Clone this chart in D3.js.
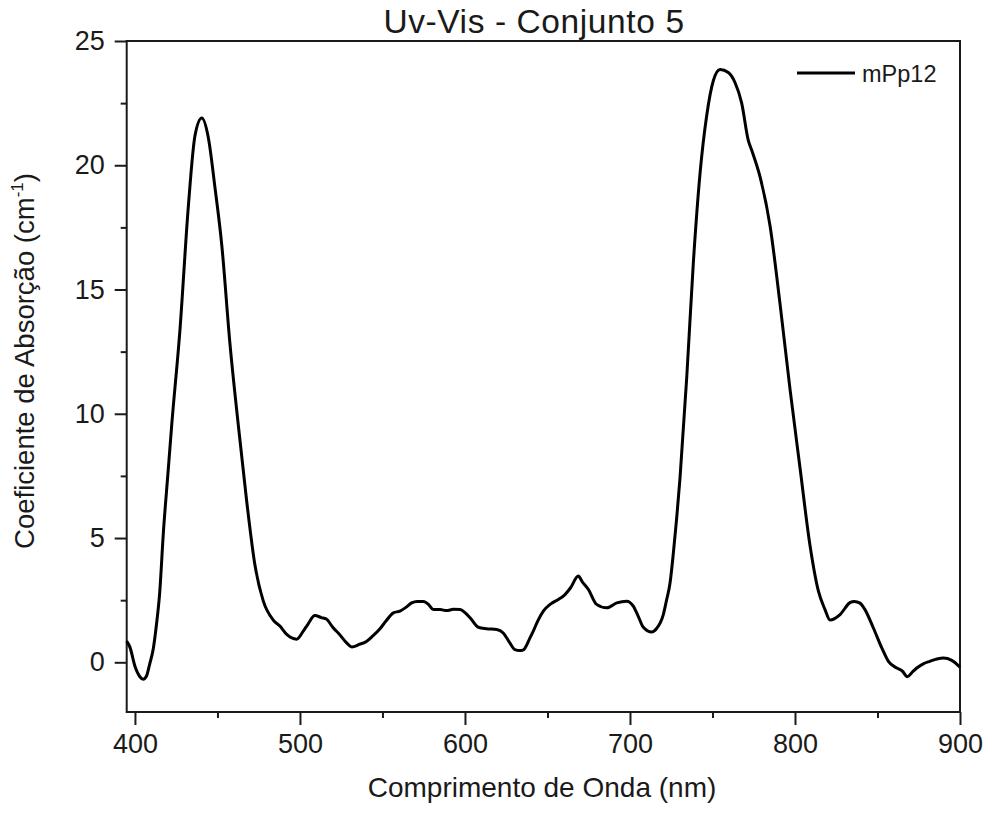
<!DOCTYPE html>
<html>
<head>
<meta charset="utf-8">
<script src="https://cdn.jsdelivr.net/npm/d3@7"></script>
<style>
  html, body { margin: 0; padding: 0; background: #fff; }
  svg { display: block; }
  text { font-family: Arial, "Liberation Sans", Helvetica, sans-serif; fill: #1a1a1a; }
</style>
</head>
<body>
<svg id="chart" width="987" height="814"></svg>
<script>
// ---- data ----
const wavelength = [395, 397, 400, 403, 405, 407, 409, 411, 413, 415, 417.2, 420, 422.3, 427.3, 432.3, 436.4, 440.5, 444.5, 448.5, 452.6, 457.6, 462.6, 467.7, 472.8, 477.8, 483.8, 488, 492, 498, 502, 505, 509, 513, 516, 520, 524, 528, 531.4, 536, 540.5, 544, 548.5, 552, 556.6, 560.6, 564, 567.7, 571, 574.8, 578, 580.8, 585, 588.9, 593, 597, 600, 603.1, 608.1, 613, 619.2, 623.2, 627, 630.3, 633, 635.4, 639.4, 641.4, 644, 647.5, 652, 656.6, 659.6, 664, 668.7, 671, 674.8, 679.8, 685.9, 692, 698, 702, 705, 708.1, 713.2, 716, 720.2, 722, 724.3, 726.3, 728.3, 730.3, 734.4, 738.4, 742.5, 746.5, 750.5, 754.6, 759.6, 763.7, 767.7, 771.7, 773.8, 778.8, 784.9, 790.9, 797, 803, 809.1, 814.2, 818.2, 821.2, 827.3, 833.3, 836, 839.4, 842.4, 847.5, 852.6, 856.6, 861.7, 865, 868.1, 871, 873.8, 878, 881.8, 886, 889.9, 895, 900];
const absorption = [0.85, 0.60, -0.16, -0.58, -0.68, -0.55, -0.05, 0.50, 1.5, 2.8, 5.2, 7.6, 9.56, 13.4, 18.3, 21.2, 21.9, 21.1, 19.1, 16.8, 12.8, 9.56, 6.49, 3.88, 2.46, 1.70, 1.45, 1.12, 0.93, 1.25, 1.55, 1.88, 1.80, 1.74, 1.40, 1.12, 0.80, 0.62, 0.72, 0.85, 1.05, 1.35, 1.65, 1.99, 2.06, 2.20, 2.39, 2.45, 2.45, 2.32, 2.12, 2.12, 2.08, 2.13, 2.12, 2.0, 1.79, 1.41, 1.35, 1.32, 1.18, 0.8, 0.51, 0.47, 0.50, 0.98, 1.25, 1.65, 2.06, 2.35, 2.53, 2.66, 3.0, 3.47, 3.25, 2.93, 2.33, 2.19, 2.39, 2.46, 2.26, 1.85, 1.41, 1.22, 1.35, 1.92, 2.45, 3.2, 4.4, 5.8, 7.4, 11.47, 16.08, 19.70, 22.0, 23.4, 23.85, 23.73, 23.32, 22.5, 21.0, 20.6, 19.54, 17.56, 14.44, 10.98, 7.85, 4.7, 2.86, 2.12, 1.70, 1.92, 2.40, 2.45, 2.38, 2.12, 1.38, 0.58, 0.04, -0.23, -0.35, -0.58, -0.40, -0.23, -0.05, 0.04, 0.13, 0.17, 0.08, -0.20];

const xDomain = [395, 900];
const yDomain = [-2, 25];
const xMajorTicks = [400, 500, 600, 700, 800, 900];
const xMinorTicks = [450, 550, 650, 750, 850];
const yMajorTicks = [0, 5, 10, 15, 20, 25];
const yMinorTicks = [2.5, 7.5, 12.5, 17.5, 22.5];

const titleText = "Uv-Vis - Conjunto 5";
const xLabel = "Comprimento de Onda (nm)";
const yLabelMain = "Coeficiente de Absorção (cm";
const yLabelSup = "-1";
const seriesName = "mPp12";

// ---- layout ----
const margin = { left: 126.7, top: 41, right: 987 - 960, bottom: 814 - 712 };
const W = 987, H = 814;
const svg = d3.select("#chart");

const x = d3.scaleLinear().domain(xDomain).range([margin.left, W - margin.right]);
const y = d3.scaleLinear().domain(yDomain).range([H - margin.bottom, margin.top]);

const axisColor = "#1a1a1a";

// frame
svg.append("rect")
  .attr("x", x(xDomain[0])).attr("y", y(yDomain[1]))
  .attr("width", x(xDomain[1]) - x(xDomain[0]))
  .attr("height", y(yDomain[0]) - y(yDomain[1]))
  .attr("fill", "none").attr("stroke", axisColor).attr("stroke-width", 2);

// x axis
const gx = svg.append("g").attr("transform", `translate(0,${y(yDomain[0])})`)
  .call(d3.axisBottom(x).tickValues(xMajorTicks).tickSize(13).tickPadding(9).tickFormat(d3.format("d")));
const gxm = svg.append("g").attr("transform", `translate(0,${y(yDomain[0])})`)
  .call(d3.axisBottom(x).tickValues(xMinorTicks).tickSize(6).tickFormat(""));

// y axis
const gy = svg.append("g").attr("transform", `translate(${x(xDomain[0])},0)`)
  .call(d3.axisLeft(y).tickValues(yMajorTicks).tickSize(12).tickPadding(10).tickFormat(d3.format("d")));
const gym = svg.append("g").attr("transform", `translate(${x(xDomain[0])},0)`)
  .call(d3.axisLeft(y).tickValues(yMinorTicks).tickSize(6).tickFormat(""));

[gx, gxm, gy, gym].forEach(g => {
  g.select(".domain").remove();
  g.selectAll(".tick line").attr("stroke", axisColor).attr("stroke-width", 2);
  g.selectAll(".tick text").attr("font-size", 27).attr("fill", "#1a1a1a")
    .style("font-family", "Arial, 'Liberation Sans', sans-serif");
});

// curve
const data = wavelength.map((w, i) => ({ w, a: absorption[i] }));
const line = d3.line().x(d => x(d.w)).y(d => y(d.a)).curve(d3.curveMonotoneX);
svg.append("path").datum(data)
  .attr("d", line)
  .attr("fill", "none").attr("stroke", "#000").attr("stroke-width", 3)
  .attr("stroke-linejoin", "round");

// title
svg.append("text")
  .attr("x", 534).attr("y", 33)
  .attr("text-anchor", "middle")
  .attr("font-size", 33.5)
  .attr("letter-spacing", 0.6)
  .text(titleText);

// x label
svg.append("text")
  .attr("x", 542).attr("y", 797)
  .attr("text-anchor", "middle")
  .attr("font-size", 28)
  .text(xLabel);

// y label
const yl = svg.append("text")
  .attr("transform", "translate(34,361) rotate(-90)")
  .attr("text-anchor", "middle")
  .attr("font-size", 27.5);
yl.append("tspan").text(yLabelMain);
yl.append("tspan").attr("font-size", 17).attr("dy", -11).text(yLabelSup);
yl.append("tspan").attr("dy", 11).text(")");

// legend
svg.append("line")
  .attr("x1", 797).attr("x2", 855).attr("y1", 73).attr("y2", 73)
  .attr("stroke", "#000").attr("stroke-width", 3);
svg.append("text")
  .attr("x", 862).attr("y", 81.5)
  .attr("font-size", 23.5)
  .text(seriesName);
</script>
</body>
</html>
